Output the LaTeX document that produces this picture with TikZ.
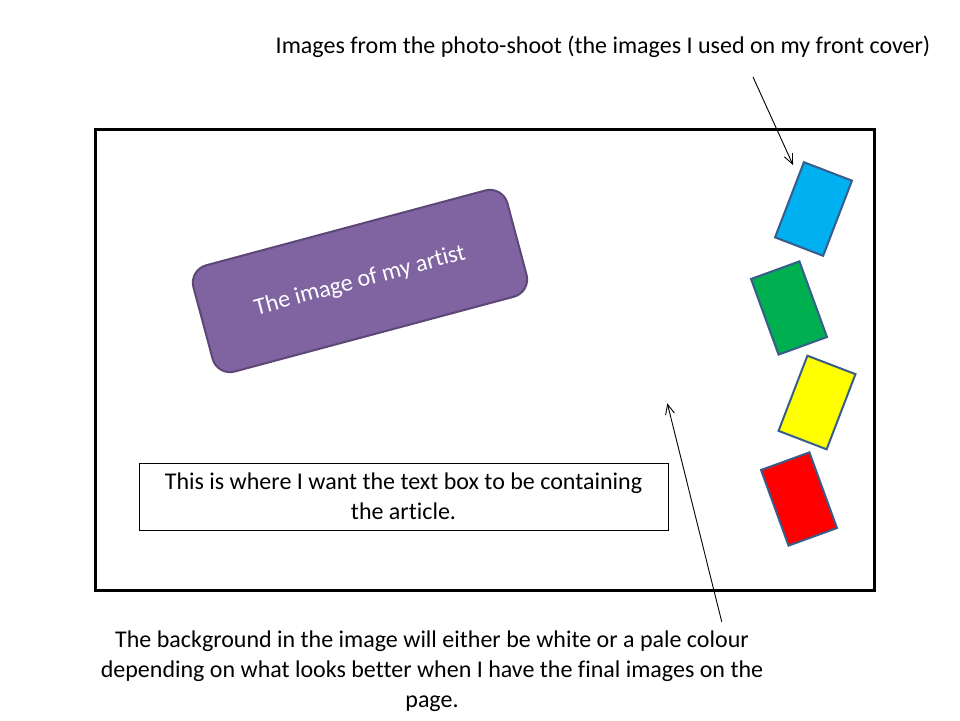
\documentclass[tikz,border=0pt]{standalone}
\usepackage{fontspec}
\setmainfont{Carlito}[RawFeature={-liga}]
\usetikzlibrary{arrows.meta}
\definecolor{purplefill}{HTML}{8064A2}
\definecolor{purpleedge}{HTML}{5C4776}
\definecolor{cardedge}{HTML}{385D8A}
\definecolor{cardblue}{HTML}{00B0F0}
\definecolor{cardgreen}{HTML}{00B050}
\definecolor{cardyellow}{HTML}{FFFF00}
\definecolor{cardred}{HTML}{FF0000}
\tikzset{
  lbl/.style={font=\fontsize{24}{30}\selectfont, align=center, inner sep=0pt},
  card/.style={draw=cardedge, line width=2pt, minimum width=51.5pt, minimum height=80.5pt, inner sep=0pt},
  pointer/.style={draw=black, line width=0.9pt, -{Straight Barb[length=10pt,width=9pt]}},
}
\begin{document}
\begin{tikzpicture}[x=1pt,y=-1pt]
\useasboundingbox[fill=white] (0,0) rectangle (960,720);
% main frame
\node[draw=black, line width=3pt, minimum width=779pt, minimum height=461pt, inner sep=0pt] (frame) at (484.5,359.5) {};
% purple box
\node[fill=purplefill, draw=purpleedge, line width=2pt, rounded corners=18pt, minimum width=325pt, minimum height=110pt, rotate=15, lbl, text=white] (artist) at (360,281) {The image of my artist};
% text box
\node[draw=black, line width=1pt, minimum width=529pt, minimum height=67pt, inner sep=0pt] (textbox) at (403.5,496.5) {};
\node[lbl] (textboxtext) at (403.5,496) {This is where I want the text box to be containing\\the article.};
% cards
\node[card, fill=cardblue, rotate=-21] (blue) at (813.5,209) {};
\node[card, fill=cardgreen, rotate=20] (green) at (789,308) {};
\node[card, fill=cardyellow, rotate=-21] (yellow) at (817,402.5) {};
\node[card, fill=cardred, rotate=20] (red) at (799,499) {};
% labels
\node[lbl] (toplabel) at (603,47) {Images from the photo-shoot (the images I used on my front cover)};
\node[lbl] (bottomlabel) at (432,671) {The background in the image will either be white or a pale colour\\depending on what looks better when I have the final images on the\\page.};
% arrows
\coordinate (topstart) at (753,77);
\coordinate (topend) at (793,165);
\coordinate (botstart) at (721.7,621.7);
\coordinate (botend) at (667.3,403.3);
\draw[pointer] (topstart) -- (topend);
\draw[pointer] (botstart) -- (botend);
\end{tikzpicture}
\end{document}
